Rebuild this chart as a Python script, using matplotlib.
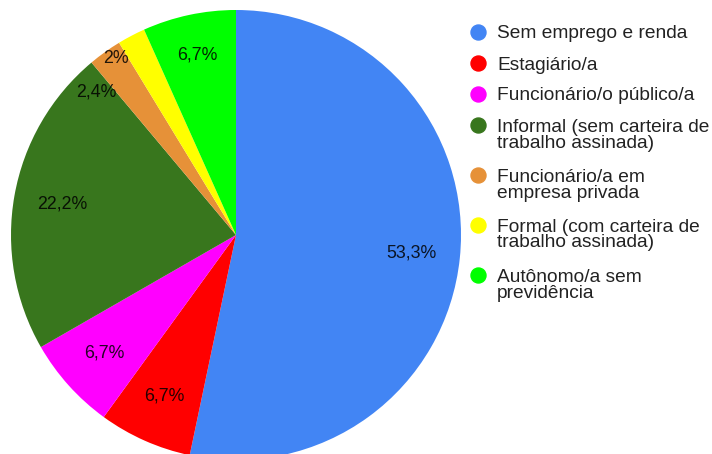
import numpy as np
import matplotlib
matplotlib.use("Agg")
import matplotlib.pyplot as plt
from matplotlib.lines import Line2D

plt.rcParams["font.family"] = ["Liberation Sans", "DejaVu Sans"]

# Situação de trabalho (percentual de respondentes)
categories = [
    "Sem emprego e renda",
    "Estagiário/a",
    "Funcionário/o público/a",
    "Informal (sem carteira de\ntrabalho assinada)",
    "Funcionário/a em\nempresa privada",
    "Formal (com carteira de\ntrabalho assinada)",
    "Autônomo/a sem\nprevidência",
]
values = [53.3, 6.7, 6.7, 22.2, 2.4, 2.0, 6.7]
colors = ["#4285F4", "#FF0000", "#FF00FF", "#38761D", "#E69138", "#FFFF00", "#00FF00"]

W, H = 712, 454
fig = plt.figure(figsize=(W / 100, H / 100), dpi=100)
fig.patch.set_facecolor("white")


def fx(x):
    return x / W


def fy(y):
    return 1 - y / H


# Pie: centre (236, 235) px, radius 225 px (bottom runs slightly off the canvas)
cx, cy, R = 236, 235, 225
ax = fig.add_axes([fx(cx - R), fy(cy + R), 2 * R / W, 2 * R / H])


def pct_text(v):
    s = f"{v:.1f}".rstrip("0").rstrip(".")
    return s.replace(".", ",") + "%"


wedges, _ = ax.pie(values, colors=colors, startangle=90, counterclock=False,
                   radius=1.0, wedgeprops=dict(linewidth=0))
ax.set_xlim(-1, 1)
ax.set_ylim(-1, 1)
ax.set_aspect("equal")
ax.axis("off")

# Label placement: (distance, angular shift in degrees) for the thin slices
label_dist = 0.785
overrides = {4: (0.89, 8.7), 5: (0.95, 6.6), 6: (0.82, 0.0)}
for i, (w, v) in enumerate(zip(wedges, values)):
    mid = np.deg2rad((w.theta1 + w.theta2) / 2)
    d, shift = overrides.get(i, (label_dist, 0.0))
    ang = mid + np.deg2rad(shift)
    ax.text(d * np.cos(ang), d * np.sin(ang), pct_text(v), ha="center", va="center",
            fontsize=12.8, color="black", alpha=0.85)

# Legend: circle markers aligned with the first line of each entry
lx_marker, lx_text = 478, 497
y = 31.7
line_h = 16.0
for lab, col in zip(categories, colors):
    fig.add_artist(Line2D([fx(lx_marker)], [fy(y)], marker="o", markersize=10.8,
                          markerfacecolor=col, markeredgecolor=col,
                          transform=fig.transFigure, linestyle="none"))
    lines = lab.split("\n")
    for k, ln in enumerate(lines):
        fig.text(fx(lx_text), fy(y + 6.8 + k * line_h), ln, ha="left", va="baseline",
                 fontsize=13.8, color="#222222")
    y += 12 + 19 * len(lines)

fig.savefig("out.png", dpi=100, facecolor="white")
